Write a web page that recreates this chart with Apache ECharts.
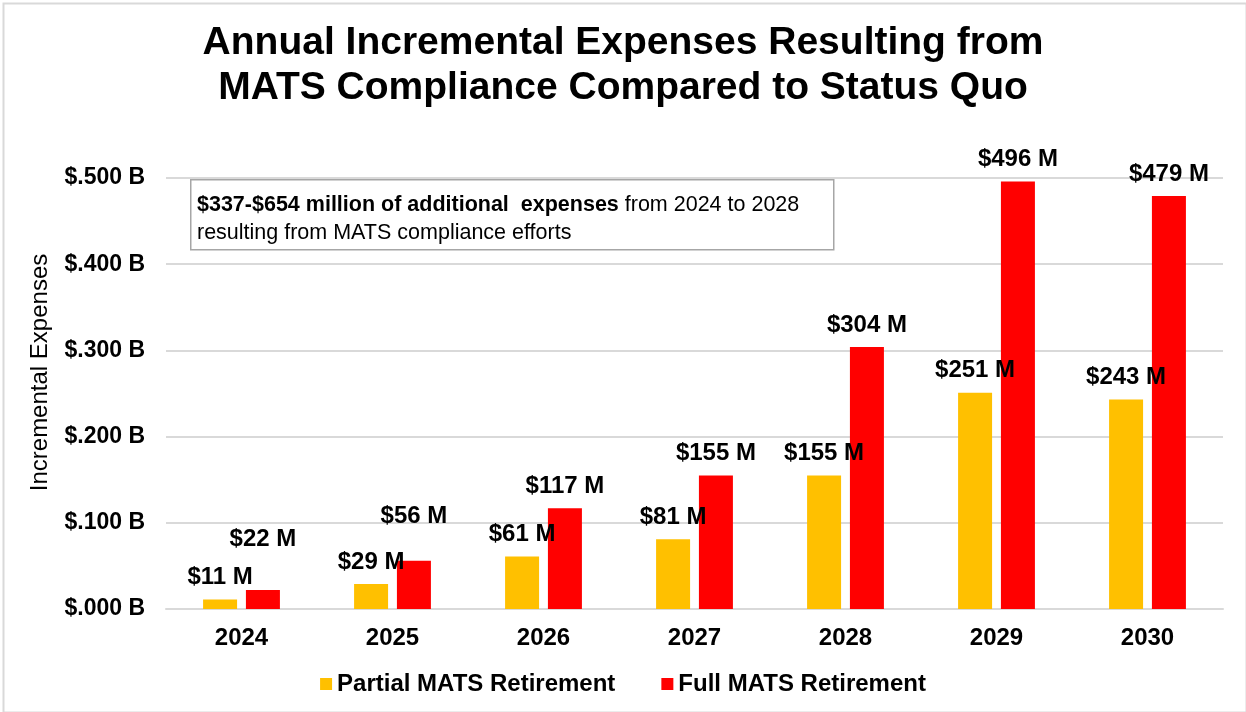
<!DOCTYPE html>
<html>
<head>
<meta charset="utf-8">
<script src="https://cdn.jsdelivr.net/npm/echarts@6/dist/echarts.min.js"></script>
<style>
  html, body { margin: 0; padding: 0; background: #fff; }
  #main { width: 1246px; height: 712px; }
</style>
</head>
<body>
<div id="main"></div>
<script>
// values in $ millions
const years = ['2024', '2025', '2026', '2027', '2028', '2029', '2030'];
const partialRetirement = [11, 29, 61, 81, 155, 251, 243];
const fullRetirement = [22, 56, 117, 155, 304, 496, 479];
const yTicks = [0, 100, 200, 300, 400, 500];

// a couple of labels sit higher in the original
const fullLabelLift = [-29, -22, 0, 0, 0, 0, 0];

const chart = echarts.init(document.getElementById('main'));
const font = 'Liberation Sans, Arial, sans-serif';

function money(v) {
  return '$' + v + ' M';
}

const option = {
  backgroundColor: '#ffffff',
  title: {
    text: 'Annual Incremental Expenses Resulting from\nMATS Compliance Compared to Status Quo',
    left: 'center',
    top: 16,
    textStyle: {
      fontFamily: font,
      fontSize: 39,
      fontWeight: 'bold',
      color: '#000',
      lineHeight: 45
    }
  },
  legend: {
    bottom: 11,
    left: 'center',
    icon: 'rect',
    itemWidth: 12,
    itemHeight: 12,
    itemGap: 46,
    textStyle: { fontFamily: font, fontSize: 24, fontWeight: 'bold', color: '#000' },
    data: ['Partial MATS Retirement', 'Full MATS Retirement']
  },
  grid: { left: 166, right: 23, top: 178, bottom: 103 },
  xAxis: {
    type: 'category',
    data: years,
    axisTick: { show: false },
    axisLine: { lineStyle: { color: '#d9d9d9', width: 2 } },
    axisLabel: { margin: 17, fontFamily: font, fontSize: 24, fontWeight: 'bold', color: '#000' }
  },
  yAxis: {
    type: 'value',
    min: yTicks[0],
    max: yTicks[yTicks.length - 1],
    interval: yTicks[1] - yTicks[0],
    name: 'Incremental Expenses',
    nameLocation: 'middle',
    nameGap: 114,
    nameTextStyle: { fontFamily: font, fontSize: 24, color: '#000', padding: [0, 0, 0, 42] },
    axisLabel: {
      margin: 21,
      fontFamily: font,
      fontSize: 23,
      fontWeight: 'bold',
      color: '#000',
      formatter: function (v) { return '$.' + String(v).padStart(3, '0') + ' B'; }
    },
    splitLine: { lineStyle: { color: '#d9d9d9', width: 2 } }
  },
  series: [
    {
      name: 'Partial MATS Retirement',
      type: 'bar',
      barWidth: 34,
      barGap: '26%',
      itemStyle: { color: '#FFC000' },
      label: {
        show: true,
        position: 'top',
        distance: 10,
        fontFamily: font,
        fontSize: 24,
        fontWeight: 'bold',
        color: '#000',
        formatter: function (p) { return money(p.value); }
      },
      data: partialRetirement
    },
    {
      name: 'Full MATS Retirement',
      type: 'bar',
      barWidth: 34,
      itemStyle: { color: '#FF0000' },
      label: {
        show: true,
        position: 'top',
        distance: 10,
        fontFamily: font,
        fontSize: 24,
        fontWeight: 'bold',
        color: '#000',
        formatter: function (p) { return money(p.value); }
      },
      data: fullRetirement.map(function (v, i) {
        return { value: v, label: { offset: [0, fullLabelLift[i]] } };
      })
    }
  ],
  graphic: [
    {
      type: 'rect',
      left: 1, top: 1,
      shape: { width: 1243, height: 709 },
      style: { fill: 'none', stroke: '#d9d9d9', lineWidth: 2 },
      silent: true
    },
    {
      type: 'rect',
      left: 190, top: 179,
      shape: { width: 643, height: 70 },
      style: { fill: '#fff', stroke: '#a6a6a6', lineWidth: 1.5 },
      z: 100
    },
    {
      type: 'text',
      left: 197, top: 191,
      z: 101,
      style: {
        text: '{b|$337-$654 million of additional  expenses} from 2024 to 2028\nresulting from MATS compliance efforts',
        fontFamily: font,
        fontSize: 21.5,
        lineHeight: 28,
        fill: '#000',
        rich: {
          b: { fontFamily: font, fontSize: 21.5, fontWeight: 'bold', fill: '#000', lineHeight: 28 }
        }
      }
    }
  ]
};

chart.setOption(option);
</script>
</body>
</html>
